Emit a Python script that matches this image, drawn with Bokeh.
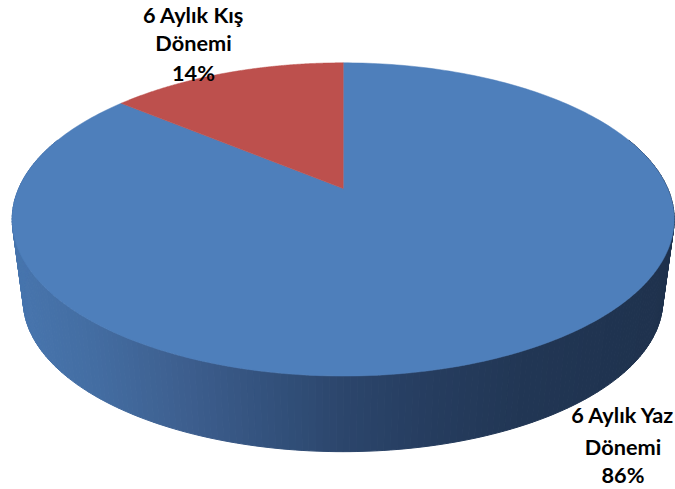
import numpy as np
from bokeh.plotting import figure
from bokeh.models import Range1d
from bokeh.core.properties import value
from bokeh.embed import file_html
from bokeh.resources import INLINE

categories = ["6 Aylık Yaz\nDönemi", "6 Aylık Kış\nDönemi"]
values = [86, 14]
colors = ["#4e7fbb", "#bd504d"]

CX, CY, A, B, K = 342.7, 188.0, 324.5, 150.5, 0.1975
CX2, CY2, S = 342.5, 270.0, 0.966


def project(theta, cx=CX, cy=CY, s=1.0):
    u, v = np.sin(theta), np.cos(theta)
    d = 1 + K * v
    return cx + s * A * u / d, cy - s * B * v / d


def side_colour(x):
    xs = [10, 90, 180, 280, 343, 430, 520, 600, 672]
    r = [72, 68, 62, 50, 44, 38, 34, 32, 31]
    g = [118, 110, 96, 80, 70, 61, 55, 52, 50]
    b = [175, 163, 144, 122, 108, 95, 85, 81, 77]
    return "#%02x%02x%02x" % (
        int(np.interp(x, xs, r)), int(np.interp(x, xs, g)), int(np.interp(x, xs, b)))


p = figure(width=675, height=489, output_backend="svg", toolbar_location=None,
           x_range=Range1d(0, 675), y_range=Range1d(489, 0), min_border=0,
           margin=(0, 0, 0, 0))
p.axis.visible = False
p.grid.visible = False
p.outline_line_color = None
p.background_fill_color = "white"

# Rim of the disc, one strip per step round the front
edges = np.radians(np.linspace(70, 290, 221))
xs, ys, cs = [], [], []
for t0, t1 in zip(edges[:-1], edges[1:]):
    x0, y0 = project(t0)
    x1, y1 = project(t1)
    x2, y2 = project(t1, CX2, CY2, S)
    x3, y3 = project(t0, CX2, CY2, S)
    xs.append([x0, x1, x2, x3])
    ys.append([y0, y1, y2, y3])
    cs.append(side_colour((x0 + x1 + x2 + x3) / 4))
p.patches(xs, ys, fill_color=cs, line_color=cs, line_width=1)

# Top face, drawn from the values
total = sum(values)
start = 0.0
for val, col in zip(values, colors):
    end = start + val / total * 2 * np.pi
    th = np.linspace(start, end, 300)
    x, y = project(th)
    p.patch(np.r_[CX, x], np.r_[CY, y], fill_color=col, line_color=col, line_width=0.5)
    start = end

# Labels
anchors = [(622.5, [414, 446, 474]), (193, [14, 42, 72])]
for cat, val, (lx, lys) in zip(categories, values, anchors):
    lines = cat.split("\n") + [f"{val}%"]
    p.text([lx] * 3, lys, text=lines, text_font=value("Lato"), text_font_style="bold",
           text_font_size="21.7px", text_align="center", text_baseline="middle",
           text_color="black")

open("out.html", "w").write(file_html(p, INLINE))
